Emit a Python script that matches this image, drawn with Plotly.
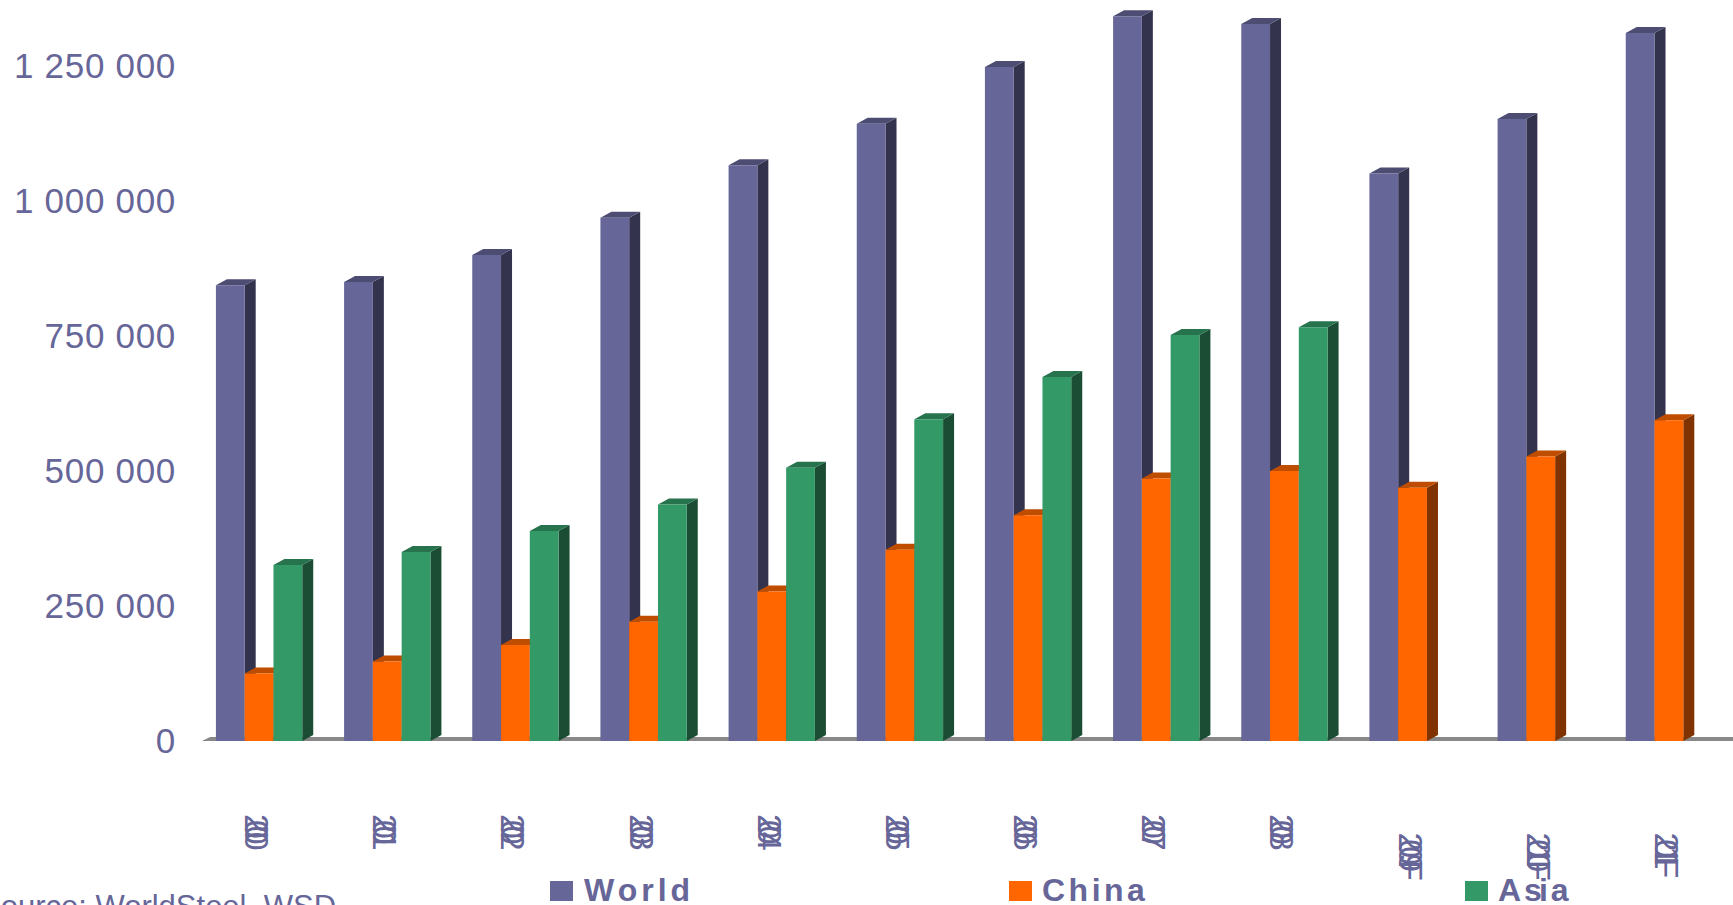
import plotly.graph_objects as go

years = ["2000", "2001", "2002", "2003", "2004", "2005", "2006", "2007", "2008", "2009F", "2010F", "2011F"]
world = [844000, 850000, 900000, 969000, 1066000, 1143000, 1248000, 1342000, 1328000, 1051000, 1152000, 1311000]
china = [125000, 147000, 178000, 221000, 277000, 354000, 418000, 486000, 500000, 469000, 527000, 594000]
asia = [326000, 350000, 389000, 438000, 506000, 596000, 674000, 752000, 766000, None, None, None]
y_ticks = [0, 250000, 500000, 750000, 1000000, 1250000]
y_labels = ["0", "250 000", "500 000", "750 000", "1 000 000", "1 250 000"]

TEXT = "#666699"
FONT = "Liberation Sans, Arial, sans-serif"
series = [
    ("World", world, "#666699", "#33334D", "#4D4D73"),
    ("China", china, "#FF6600", "#803300", "#BF4D00"),
    ("Asia", asia, "#339966", "#1A4D33", "#26734D"),
]

W, H = 1733, 905
L, B = 195, 164
PW, PH = W - L, H - B
YMAX = 250000 * PH / 135
BAR_W = 0.2245
DX, DY = 11, 6


def px(x):
    return (x - L) / PW


def py(y):
    return (PH - y) / PH


fig = go.Figure()
shapes = [dict(type="path", xref="x", yref="y", xsizemode="pixel", ysizemode="pixel",
               xanchor=-0.5, yanchor=0, path=f"M 7 0 L 15 4 L {PW} 4 L {PW} 0 Z",
               fillcolor="#888888", line_width=0, layer="below")]

for i, (name, vals, front, side, top) in enumerate(series):
    fig.add_trace(go.Bar(x=list(range(len(years))), y=vals, name=name, marker=dict(color=front, line_width=0)))
    for k, v in enumerate(vals):
        if v is None:
            continue
        xr = k + (i - 0.5) * BAR_W
        bw = BAR_W * PW / 12.0
        h = v / YMAX * PH
        shapes.append(dict(type="path", xref="x", yref="y", xsizemode="pixel", ysizemode="pixel",
                           xanchor=xr, yanchor=0,
                           path=f"M 0 0 L {DX} {DY} L {DX} {h + DY} L 0 {h} Z",
                           fillcolor=side, line_width=0, layer="below"))
        shapes.append(dict(type="path", xref="x", yref="y", xsizemode="pixel", ysizemode="pixel",
                           xanchor=xr, yanchor=0,
                           path=f"M 0 {h} L {DX} {h + DY} L {DX - bw} {h + DY} L {-bw} {h} Z",
                           fillcolor=top, line_width=0, layer="below"))

legend_pos = [(550, 583), (1009, 1041), (1465, 1497)]
legend_text = {
    "World": '<span style="letter-spacing:4px">World</span>',
    "China": '<span style="letter-spacing:3.5px">China</span>',
    "Asia": '<span style="letter-spacing:3px">A</span><span style="letter-spacing:-3px">s</span>'
            '<span style="letter-spacing:3px">ia</span>',
}
annotations = []
for (name, _, front, _, _), (sq, tx) in zip(series, legend_pos):
    shapes.append(dict(type="rect", xref="paper", yref="paper",
                       x0=px(sq), x1=px(sq + 23), y0=py(881), y1=py(901),
                       fillcolor=front, line_width=0))
    annotations.append(dict(xref="paper", yref="paper", x=px(tx), y=py(871), xanchor="left", yanchor="top",
                            showarrow=False, borderpad=0, align="left",
                            text=f"<b>{legend_text[name]}</b>",
                            font=dict(family=FONT, size=32, color=TEXT)))

annotations.append(dict(xref="paper", yref="paper", x=px(-21), y=py(888), xanchor="left", yanchor="top",
                        showarrow=False, borderpad=0, text="Source: WorldSteel, WSD",
                        font=dict(family=FONT, size=31, color=TEXT)))


def tick_text(label):
    if label.endswith("F"):
        return f'<span style="letter-spacing:9px">&nbsp;</span><span style="letter-spacing:-12px">{label}</span>'
    return f'<span style="letter-spacing:-13px">{label}</span>'


def y_tick_text(label):
    return f'<span style="letter-spacing:0.7px">{label}</span>'


fig.update_layout(
    width=W, height=H, autosize=False,
    margin=dict(l=L, r=0, t=0, b=B, pad=0),
    paper_bgcolor="white", plot_bgcolor="white",
    barmode="group", bargap=1 - 3 * BAR_W, bargroupgap=0,
    showlegend=False, shapes=shapes, annotations=annotations,
    font=dict(family=FONT, color=TEXT),
    xaxis=dict(range=[-0.5, 11.5], tickmode="array", tickvals=list(range(len(years))),
               ticktext=[tick_text(y) for y in years], tickangle=90, ticks="", showgrid=False,
               zeroline=False, showline=False, ticklabelstandoff=72, ticklabelshift=-3,
               tickfont=dict(family=FONT, size=34, color=TEXT)),
    yaxis=dict(range=[0, YMAX], tickmode="array", tickvals=y_ticks,
               ticktext=[y_tick_text(t) for t in y_labels], ticks="",
               showgrid=False, zeroline=False, showline=False, ticklabelstandoff=18,
               tickfont=dict(family=FONT, size=35, color=TEXT)),
)

fig.write_html("out.html", config={"displayModeBar": False},
               post_script="document.body.style.margin='0';document.body.style.overflow='hidden';")
